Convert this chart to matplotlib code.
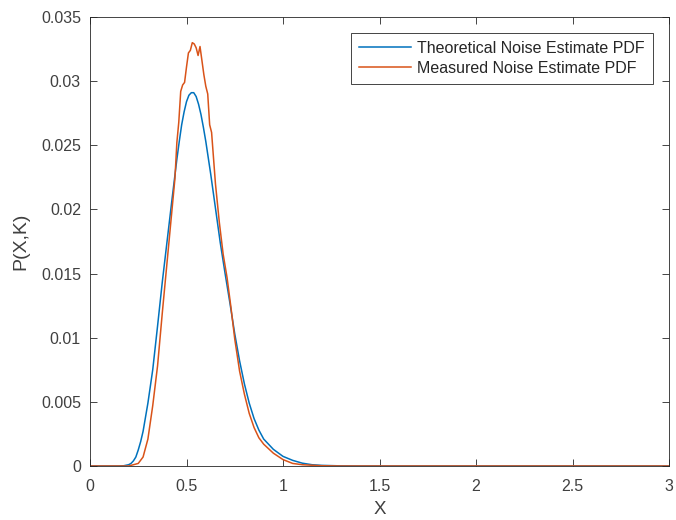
#!/usr/bin/env python3
import matplotlib
matplotlib.use("Agg")
import matplotlib.pyplot as plt

plt.rcParams['font.family'] = ['Liberation Sans', 'DejaVu Sans']

# theoretical noise estimate pdf
x_theo = [0.0, 0.15, 0.175, 0.2, 0.2125, 0.225, 0.2375, 0.25, 0.2625, 0.275,
          0.3, 0.325, 0.35, 0.375, 0.4, 0.425, 0.45, 0.4625, 0.475, 0.4875,
          0.5, 0.5125, 0.525, 0.5375, 0.55, 0.5625, 0.575, 0.5875, 0.6, 0.625,
          0.65, 0.675, 0.7, 0.725, 0.75, 0.775, 0.8, 0.825, 0.85, 0.875, 0.9,
          0.95, 1.0, 1.05, 1.1, 1.15, 1.2, 1.3, 1.4, 3.0]
p_theo = [0.0, 0.0, 0.00002, 0.0001, 0.0002, 0.0004, 0.0007, 0.00125, 0.0019,
          0.0027, 0.0049, 0.0075, 0.0109, 0.0144, 0.0176, 0.0208, 0.0239,
          0.0253, 0.0266, 0.0276, 0.0284, 0.0289, 0.0291, 0.0291, 0.0288,
          0.0282, 0.0274, 0.0264, 0.0253, 0.0228, 0.0201, 0.0174, 0.0150,
          0.0127, 0.0103, 0.0082, 0.0064, 0.0049, 0.0037, 0.0028, 0.0021,
          0.0013, 0.00075, 0.00044, 0.00022, 0.0001, 0.00005, 0.00001, 0.0, 0.0]

# measured noise estimate pdf
x_meas = [0.0, 0.2, 0.25, 0.275, 0.3, 0.325, 0.35, 0.375, 0.4, 0.42, 0.44,
          0.45, 0.46, 0.47, 0.48, 0.49, 0.5, 0.51, 0.52, 0.53, 0.54, 0.55,
          0.56, 0.57, 0.58, 0.59, 0.6, 0.61, 0.62, 0.63, 0.64, 0.65, 0.67,
          0.69, 0.71, 0.73, 0.75, 0.775, 0.8, 0.825, 0.85, 0.875, 0.9, 0.95,
          1.0, 1.05, 1.1, 1.2, 1.3, 3.0]
p_meas = [0.0, 0.0, 0.0002, 0.0007, 0.0021, 0.0047, 0.0078, 0.0120, 0.0160,
          0.0192, 0.0224, 0.0252, 0.0268, 0.0292, 0.0297, 0.0299, 0.0311,
          0.0322, 0.0324, 0.0330, 0.0329, 0.0326, 0.0320, 0.0327, 0.0316,
          0.0305, 0.0296, 0.0290, 0.0266, 0.0260, 0.0240, 0.0220, 0.0190,
          0.0165, 0.0147, 0.0124, 0.0099, 0.0074, 0.0056, 0.0041, 0.0030,
          0.0022, 0.0017, 0.0010, 0.0005, 0.0002, 0.0001, 0.00002, 0.0, 0.0]

xticks = [0, 0.5, 1, 1.5, 2, 2.5, 3]
xticklabels = ['0', '0.5', '1', '1.5', '2', '2.5', '3']
yticks = [0, 0.005, 0.01, 0.015, 0.02, 0.025, 0.03, 0.035]
yticklabels = ['0', '0.005', '0.01', '0.015', '0.02', '0.025', '0.03', '0.035']

fig = plt.figure(figsize=(6.76, 5.2), dpi=100)
ax = fig.add_axes([90 / 676, 54 / 520, 579 / 676, 449 / 520])

ax.plot(x_theo, p_theo, color='#0072BD', lw=1.1, label='Theoretical Noise Estimate PDF')
ax.plot(x_meas, p_meas, color='#D95319', lw=1.1, label='Measured Noise Estimate PDF')

ax.set_xlim(0, 3)
ax.set_ylim(0, 0.035)
ax.set_xticks(xticks)
ax.set_xticklabels(xticklabels)
ax.set_yticks(yticks)
ax.set_yticklabels(yticklabels)
ax.tick_params(direction='in', top=True, right=True, length=5, width=0.6,
               color='#262626', labelcolor='#404040', labelsize=11.5)
ax.tick_params(axis='x', pad=9.5)
ax.tick_params(axis='y', pad=6.5)
for s in ax.spines.values():
    s.set_color('#262626')
    s.set_linewidth(0.6)

ax.set_xlabel('X', fontsize=13.5, color='#404040', labelpad=5)
ax.set_ylabel('P(X,K)', fontsize=14, color='#404040', labelpad=8)

leg = ax.legend(loc='upper right', fontsize=11.5, frameon=True, fancybox=False,
                edgecolor='#262626', framealpha=1, handlelength=3.25,
                handletextpad=0.4, borderaxespad=1.0, borderpad=0.5,
                labelspacing=0.3)
leg.get_frame().set_linewidth(0.6)
for t in leg.get_texts():
    t.set_color('#262626')

fig.savefig('out.png', dpi=100)
